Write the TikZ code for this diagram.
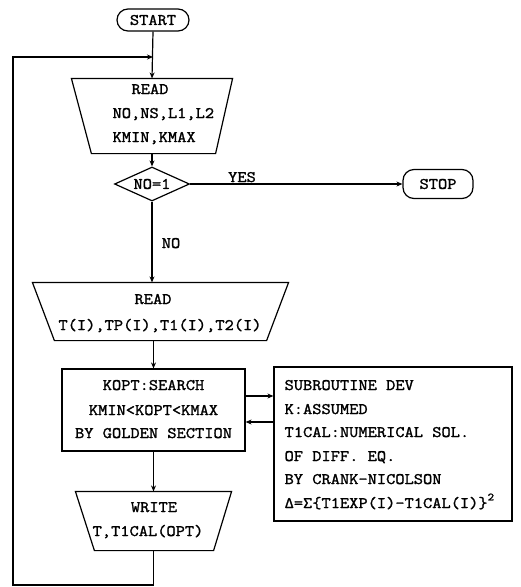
\documentclass[tikz,border=0pt]{standalone}
\usepackage{fontspec}
\setmonofont{Latin Modern Mono}[FakeStretch=1.12,FakeBold=1.6]
\usetikzlibrary{shapes.geometric,arrows.meta,calc}
\begin{document}
\begin{tikzpicture}[x=1pt,y=-1pt,line width=1.2pt,
  font=\ttfamily\fontsize{16}{18}\selectfont,
  >={Stealth[length=6pt,width=5pt]},
  term/.style={draw,rounded corners=11pt,inner sep=0pt},
  box/.style={draw,inner sep=0pt},
  ghost/.style={inner sep=0pt},
  txt/.style={inner sep=0pt,anchor=base},
  ltxt/.style={inner sep=0pt,anchor=base west}]
\useasboundingbox (0,0) rectangle (521,587);

% terminals
\node[term,minimum width=72pt,minimum height=22pt] (start) at (153,20) {START};
\node[term,minimum width=70pt,minimum height=29pt] (stop) at (438,184) {STOP};

% READ 1
\node[ghost,minimum width=160pt,minimum height=74pt] (r1) at (152,116) {};
\draw (r1.north west) -- (r1.north east) -- ([xshift=-17pt]r1.south east) -- ([xshift=20pt]r1.south west) -- cycle;
\node[txt] (r1a) at (150,94) {READ};
\node[ltxt] (r1b) at (112,118) {NO,NS,L1,L2};
\node[ltxt] (r1c) at (112,142) {KMIN,KMAX};

% decision
\node[draw,diamond,aspect=2.2,inner sep=1pt,minimum width=75pt,minimum height=34pt] (dia) at (152,184) {NO=1};

% READ 2
\node[ghost,minimum width=255pt,minimum height=57pt] (r2) at (160.5,311.5) {};
\draw (r2.north west) -- (r2.north east) -- ([xshift=-22pt]r2.south east) -- ([xshift=22pt]r2.south west) -- cycle;
\node[txt] (r2a) at (153,304) {READ};
\node[txt] (r2b) at (160,330) {T(I),TP(I),T1(I),T2(I)};

% KOPT box
\node[box,minimum width=183pt,minimum height=82pt] (kopt) at (153.5,410) {};
\node[txt] (k1) at (153.5,390) {KOPT:SEARCH};
\node[txt] (k2) at (153.5,415) {KMIN<KOPT<KMAX};
\node[txt] (k3) at (153.5,438) {BY GOLDEN SECTION};

% subroutine box
\node[box,minimum width=238pt,minimum height=154pt] (sub) at (393,444) {};
\node[ltxt] (s1) at (284,390) {SUBROUTINE DEV};
\node[ltxt] (s2) at (284,414) {K:ASSUMED};
\node[ltxt] (s3) at (284,437) {T1CAL:NUMERICAL SOL.};
\node[ltxt] (s4) at (284,461) {OF DIFF. EQ.};
\node[ltxt] (s5) at (284,484) {BY CRANK-NICOLSON};
\node[ltxt] (s6) at (284,508) {Δ=Σ\{T1EXP(I)-T1CAL(I)\}\raisebox{1.1ex}{\fontsize{11}{11}\selectfont 2}};

% WRITE
\node[ghost,minimum width=155pt,minimum height=58pt] (wr) at (153.5,521) {};
\draw (wr.north west) -- (wr.north east) -- ([xshift=-18pt]wr.south east) -- ([xshift=19pt]wr.south west) -- cycle;
\node[txt] (w1) at (154,512) {WRITE};
\node[txt] (w2) at (148,536) {T,T1CAL(OPT)};

% labels
\node[txt] (yes) at (242,182) {YES};
\node[txt] (no) at (171,248) {NO};

% connectors
\coordinate (loopin) at (13,57);
\coordinate (loopbot) at (13,585);
\coordinate (ar1) at (0,396);
\coordinate (ar2) at (0,422);
\draw[->] (start.south) -- (r1.north);
\draw[->] (r1.south) -- (dia.north);
\draw[->] (dia.east) -- (stop.west);
\draw[->] (dia.south) -- (dia.south |- r2.north);
\draw[->] (kopt.north |- r2.south) -- (kopt.north);
\draw[->] (kopt.east |- ar1) -- (sub.west |- ar1);
\draw[->] (sub.west |- ar2) -- (kopt.east |- ar2);
\draw[->] (kopt.south) -- (wr.north);
\draw[->] (wr.south) -- (wr.south |- loopbot) -- (loopbot) -- (loopin) -- (start.south |- loopin);
\end{tikzpicture}
\end{document}
